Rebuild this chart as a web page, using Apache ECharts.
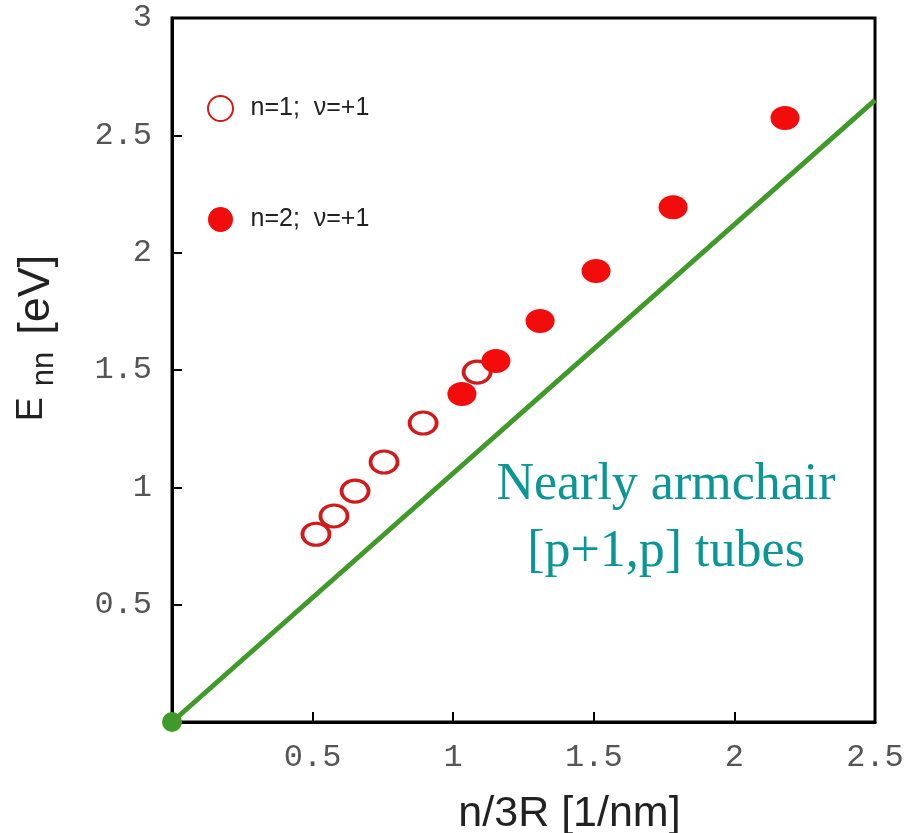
<!DOCTYPE html>
<html>
<head>
<meta charset="utf-8">
<script src="https://cdn.jsdelivr.net/npm/echarts@6/dist/echarts.min.js"></script>
<style>
  html, body { margin: 0; padding: 0; background: #fff; }
  #main { width: 905px; height: 833px; }
</style>
</head>
<body>
<div id="main"></div>
<script>
// data
const n1Points = [[0.512, 0.80], [0.576, 0.878], [0.651, 0.984], [0.754, 1.108], [0.893, 1.274], [1.085, 1.491]]
const n2Points = [[1.031, 1.398], [1.152, 1.538], [1.309, 1.709], [1.508, 1.922], [1.782, 2.194], [2.180, 2.574]]
const linePoints = [[0, 0], [2.5, 2.65]]
const originPoint = [[0, 0]]
const legendNames = ['n=1;  ν=+1', 'n=2;  ν=+1']

const myChart = echarts.init(document.getElementById('main'))

const tickFont = {
  fontFamily: 'Liberation Mono',
  fontSize: 32,
  color: '#555'
}

const option = {
  backgroundColor: '#fff',
  animation: false,
  grid: {
    left: 172,
    right: 30,
    top: 18,
    bottom: 111,
    outerBoundsMode: 'none',
    show: true,
    borderColor: '#000',
    borderWidth: 3,
    backgroundColor: 'transparent'
  },
  legend: {
    data: legendNames,
    orient: 'vertical',
    left: 202,
    top: 90,
    itemWidth: 36,
    itemHeight: 25,
    itemGap: 85,
    textStyle: {
      fontFamily: 'Liberation Sans',
      fontSize: 25,
      color: '#222',
      padding: [0, 0, 0, 7]
    }
  },
  xAxis: {
    type: 'value',
    min: 0,
    max: 2.5,
    interval: 0.5,
    name: 'n/3R [1/nm]',
    nameLocation: 'middle',
    nameGap: 71,
    nameTextStyle: {
      fontFamily: 'Liberation Sans',
      fontSize: 43,
      color: '#222',
      padding: [0, 0, 0, 92]
    },
    axisLine: { show: true, lineStyle: { color: '#000', width: 3 } },
    axisTick: { show: true, inside: true, length: 10, lineStyle: { color: '#000', width: 2 } },
    splitLine: { show: false },
    axisLabel: {
      ...tickFont,
      margin: 20,
      formatter: v => (v === 0 ? '' : String(v))
    }
  },
  yAxis: {
    type: 'value',
    min: 0,
    max: 3,
    interval: 0.5,
    name: '{e|E}{s|nn}{u|[eV]}',
    nameLocation: 'middle',
    nameRotate: 90,
    nameGap: 112,
    nameTextStyle: {
      rich: {
        e: { fontFamily: 'Liberation Sans', fontSize: 36, color: '#222', verticalAlign: 'top', lineHeight: 46, padding: [0, 0, 0, 64] },
        s: { fontFamily: 'Liberation Sans', fontSize: 31, color: '#222', verticalAlign: 'bottom', lineHeight: 46, padding: [0, 17, 0, 11] },
        u: { fontFamily: 'Liberation Sans', fontSize: 45, color: '#222', verticalAlign: 'top', lineHeight: 46 }
      }
    },
    axisLine: { show: true, lineStyle: { color: '#000', width: 3 } },
    axisTick: { show: true, inside: true, length: 10, lineStyle: { color: '#000', width: 2 } },
    splitLine: { show: false },
    axisLabel: {
      ...tickFont,
      margin: 20,
      formatter: v => (v === 0 ? '' : String(v))
    }
  },
  graphic: [
    {
      type: 'text',
      x: 666,
      y: 452,
      style: {
        text: 'Nearly armchair\n[p+1,p] tubes',
        fontFamily: 'Liberation Serif',
        fontSize: 52,
        lineHeight: 67,
        fill: '#0b9696',
        align: 'center',
        verticalAlign: 'top'
      }
    }
  ],
  series: [
    {
      type: 'line',
      data: linePoints,
      symbol: 'none',
      lineStyle: { color: '#3f9a2a', width: 5 },
      z: 1
    },
    {
      type: 'scatter',
      data: originPoint,
      symbolSize: 20,
      clip: false,
      itemStyle: { color: '#3f9a2a', opacity: 1 },
      z: 2
    },
    {
      name: legendNames[0],
      type: 'scatter',
      data: n1Points,
      symbolSize: [27, 22],
      itemStyle: { color: '#fff', borderColor: '#d11b1b', borderWidth: 3.5, opacity: 1 },
      z: 3
    },
    {
      name: legendNames[1],
      type: 'scatter',
      data: n2Points,
      symbolSize: [29, 24],
      itemStyle: { color: '#f20c0c', opacity: 1 },
      z: 3
    }
  ]
}

myChart.setOption(option)
</script>
</body>
</html>
